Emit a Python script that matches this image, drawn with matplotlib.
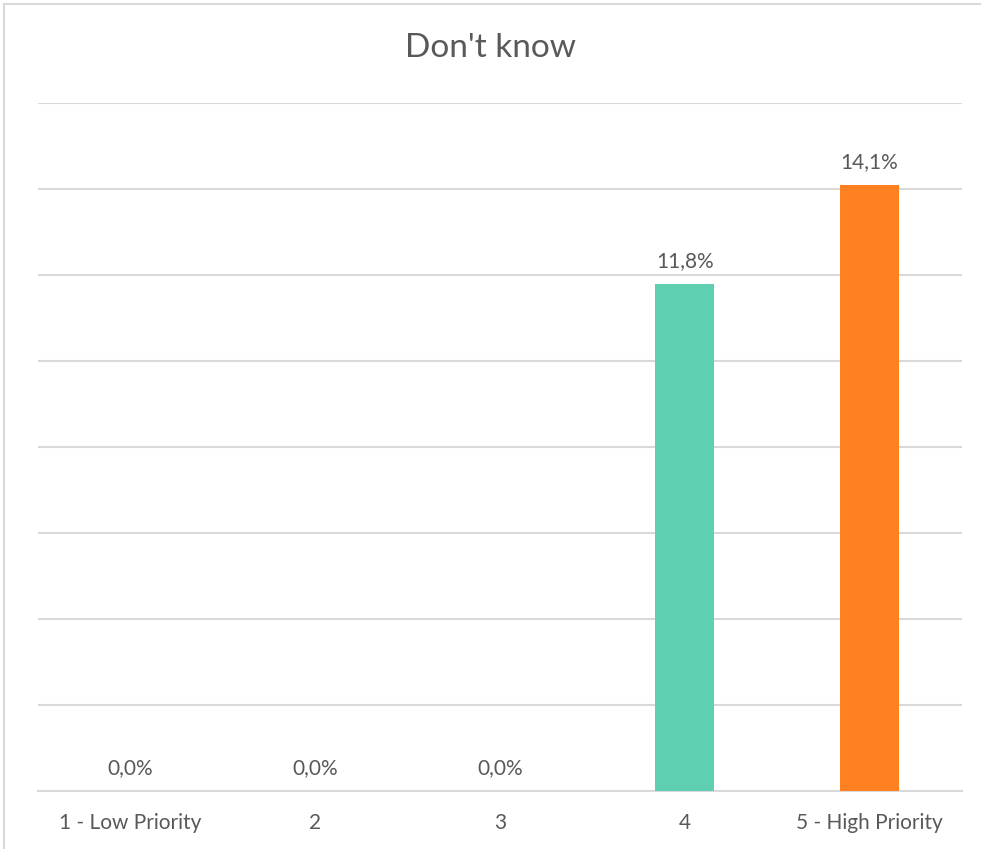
import matplotlib.pyplot as plt
from matplotlib.lines import Line2D

categories = ["1 - Low Priority", "2", "3", "4", "5 - High Priority"]
values = [0.0, 0.0, 0.0, 11.8, 14.1]
colors = ["#5ECFB1", "#5ECFB1", "#5ECFB1", "#5ECFB1", "#FF8021"]
title = "Don't know"

TEXT = "#595959"
GRID = "#D9D9D9"

plt.rcParams["font.family"] = ["Lato", "DejaVu Sans"]

fig = plt.figure(figsize=(9.81, 8.49), dpi=100)
ax = fig.add_axes([38 / 981, 58 / 849, 924 / 981, 688 / 849])

x = range(len(categories))
ax.bar(x, values, width=0.32, color=colors, zorder=3)

for i, v in enumerate(values):
    ax.annotate(f"{v:.1f}%".replace(".", ","), (i, v), xytext=(0, 9),
                textcoords="offset points", ha="center", va="bottom",
                fontsize=15, color=TEXT)

ax.set_xlim(-0.5, len(categories) - 0.5)
ax.set_ylim(0, 16)
ax.set_yticks(range(0, 17, 2))
ax.yaxis.grid(True, color=GRID, linewidth=1.5, zorder=0)
ax.tick_params(axis="y", left=False, labelleft=False)
ax.tick_params(axis="x", bottom=False, labelsize=15, labelcolor=TEXT, pad=12)
ax.set_xticks(list(x))
ax.set_xticklabels(categories)
for s in ["top", "right", "left"]:
    ax.spines[s].set_visible(False)
ax.spines["bottom"].set_color(GRID)
ax.spines["bottom"].set_linewidth(1.5)

fig.text(0.5, 1 - 48 / 849, title, ha="center", va="center",
         fontsize=24, color=TEXT)

# chart frame (top and left edges only)
fx, fy = 3.5 / 981, 1 - 3.5 / 849
fig.add_artist(Line2D([fx, 1], [fy, fy], transform=fig.transFigure,
                      color=GRID, linewidth=1.5))
fig.add_artist(Line2D([fx, fx], [0, fy], transform=fig.transFigure,
                      color=GRID, linewidth=1.5))

fig.savefig("out.png", dpi=100)
